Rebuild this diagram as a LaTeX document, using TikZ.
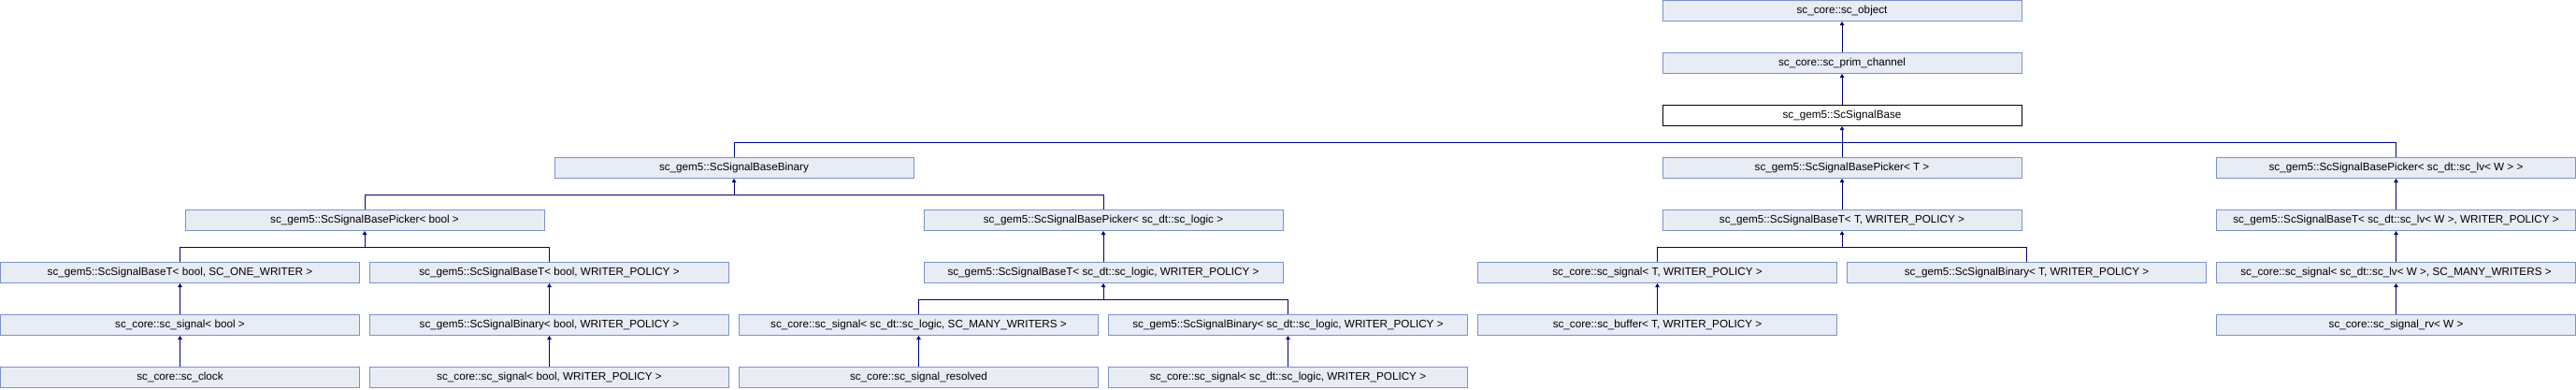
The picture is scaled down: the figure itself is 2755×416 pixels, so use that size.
\documentclass[tikz,border=0pt]{standalone}
\usepackage{fontspec}
\setmainfont{Liberation Sans}
\usepackage{xcolor}
\usepackage{tikz}
\usetikzlibrary{arrows.meta}
\definecolor{boxfill}{RGB}{232,236,245}
\definecolor{boxline}{RGB}{124,146,204}
\definecolor{edgeblue}{RGB}{0,0,128}
\tikzset{
classbox/.style={
  rectangle,draw=boxline,fill=boxfill,line width=1pt,
  minimum width=384pt,minimum height=22pt,
  inner sep=0pt,font=\fontsize{11.7}{12}\selectfont
},
basebox/.style={classbox,draw=black,fill=white},
edgeline/.style={draw=edgeblue,line width=1pt},
inherit/.style={edgeline,-{Triangle[length=4pt,width=4.5pt]}},
}

\begin{document}
\begin{tikzpicture}[x=395pt,y=-56pt]
\useasboundingbox (-192.5pt,11.5pt) rectangle (2562.5pt,-404.5pt);
% the boxes, row by row
\node[classbox] (obj) at (4.5,0) {sc\_core::sc\_object};
\node[classbox] (prim) at (4.5,1) {sc\_core::sc\_prim\_channel};
\node[basebox] (base) at (4.5,2) {sc\_gem5::ScSignalBase};
\node[classbox] (bbin) at (1.5,3) {sc\_gem5::ScSignalBaseBinary};
\node[classbox] (pickT) at (4.5,3) {sc\_gem5::ScSignalBasePicker< T >};
\node[classbox] (pickLv) at (6,3) {sc\_gem5::ScSignalBasePicker< sc\_dt::sc\_lv< W > >};
\node[classbox] (pickBool) at (0.5,4) {sc\_gem5::ScSignalBasePicker< bool >};
\node[classbox] (pickLogic) at (2.5,4) {sc\_gem5::ScSignalBasePicker< sc\_dt::sc\_logic >};
\node[classbox] (baseTT) at (4.5,4) {sc\_gem5::ScSignalBaseT< T, WRITER\_POLICY >};
\node[classbox] (baseTLv) at (6,4) {sc\_gem5::ScSignalBaseT< sc\_dt::sc\_lv< W >, WRITER\_POLICY >};
\node[classbox] (baseTOne) at (0,5) {sc\_gem5::ScSignalBaseT< bool, SC\_ONE\_WRITER >};
\node[classbox] (baseTBool) at (1,5) {sc\_gem5::ScSignalBaseT< bool, WRITER\_POLICY >};
\node[classbox] (baseTLogic) at (2.5,5) {sc\_gem5::ScSignalBaseT< sc\_dt::sc\_logic, WRITER\_POLICY >};
\node[classbox] (sigT) at (4,5) {sc\_core::sc\_signal< T, WRITER\_POLICY >};
\node[classbox] (binT) at (5,5) {sc\_gem5::ScSignalBinary< T, WRITER\_POLICY >};
\node[classbox] (sigLvMany) at (6,5) {sc\_core::sc\_signal< sc\_dt::sc\_lv< W >, SC\_MANY\_WRITERS >};
\node[classbox] (sigBool) at (0,6) {sc\_core::sc\_signal< bool >};
\node[classbox] (binBool) at (1,6) {sc\_gem5::ScSignalBinary< bool, WRITER\_POLICY >};
\node[classbox] (sigLogicMany) at (2,6) {sc\_core::sc\_signal< sc\_dt::sc\_logic, SC\_MANY\_WRITERS >};
\node[classbox] (binLogic) at (3,6) {sc\_gem5::ScSignalBinary< sc\_dt::sc\_logic, WRITER\_POLICY >};
\node[classbox] (bufT) at (4,6) {sc\_core::sc\_buffer< T, WRITER\_POLICY >};
\node[classbox] (sigRv) at (6,6) {sc\_core::sc\_signal\_rv< W >};
\node[classbox] (clock) at (0,7) {sc\_core::sc\_clock};
\node[classbox] (sigBoolWp) at (1,7) {sc\_core::sc\_signal< bool, WRITER\_POLICY >};
\node[classbox] (resolved) at (2,7) {sc\_core::sc\_signal\_resolved};
\node[classbox] (sigLogicWp) at (3,7) {sc\_core::sc\_signal< sc\_dt::sc\_logic, WRITER\_POLICY >};
% single inheritance
\foreach \c/\p in {prim/obj,base/prim,baseTT/pickT,baseTLv/pickLv,sigLvMany/baseTLv,
  sigRv/sigLvMany,sigBool/baseTOne,clock/sigBool,binBool/baseTBool,sigBoolWp/binBool,
  baseTLogic/pickLogic,resolved/sigLogicMany,sigLogicWp/binLogic,bufT/sigT}
{
  \draw[inherit] (\c.north) -- (\p.south);
}
% the bars for several children
\foreach \p/\kids in {base/{bbin,pickT,pickLv},bbin/{pickBool,pickLogic},
  pickBool/{baseTOne,baseTBool},baseTLogic/{sigLogicMany,binLogic},baseTT/{sigT,binT}}
{
  \coordinate (bar) at ([yshift=-17pt]\p.south);
  \draw[inherit] (bar) -- (\p.south);
  \foreach \k in \kids
    \draw[edgeline] (bar) -| (\k.north);
}
\end{tikzpicture}
\end{document}
